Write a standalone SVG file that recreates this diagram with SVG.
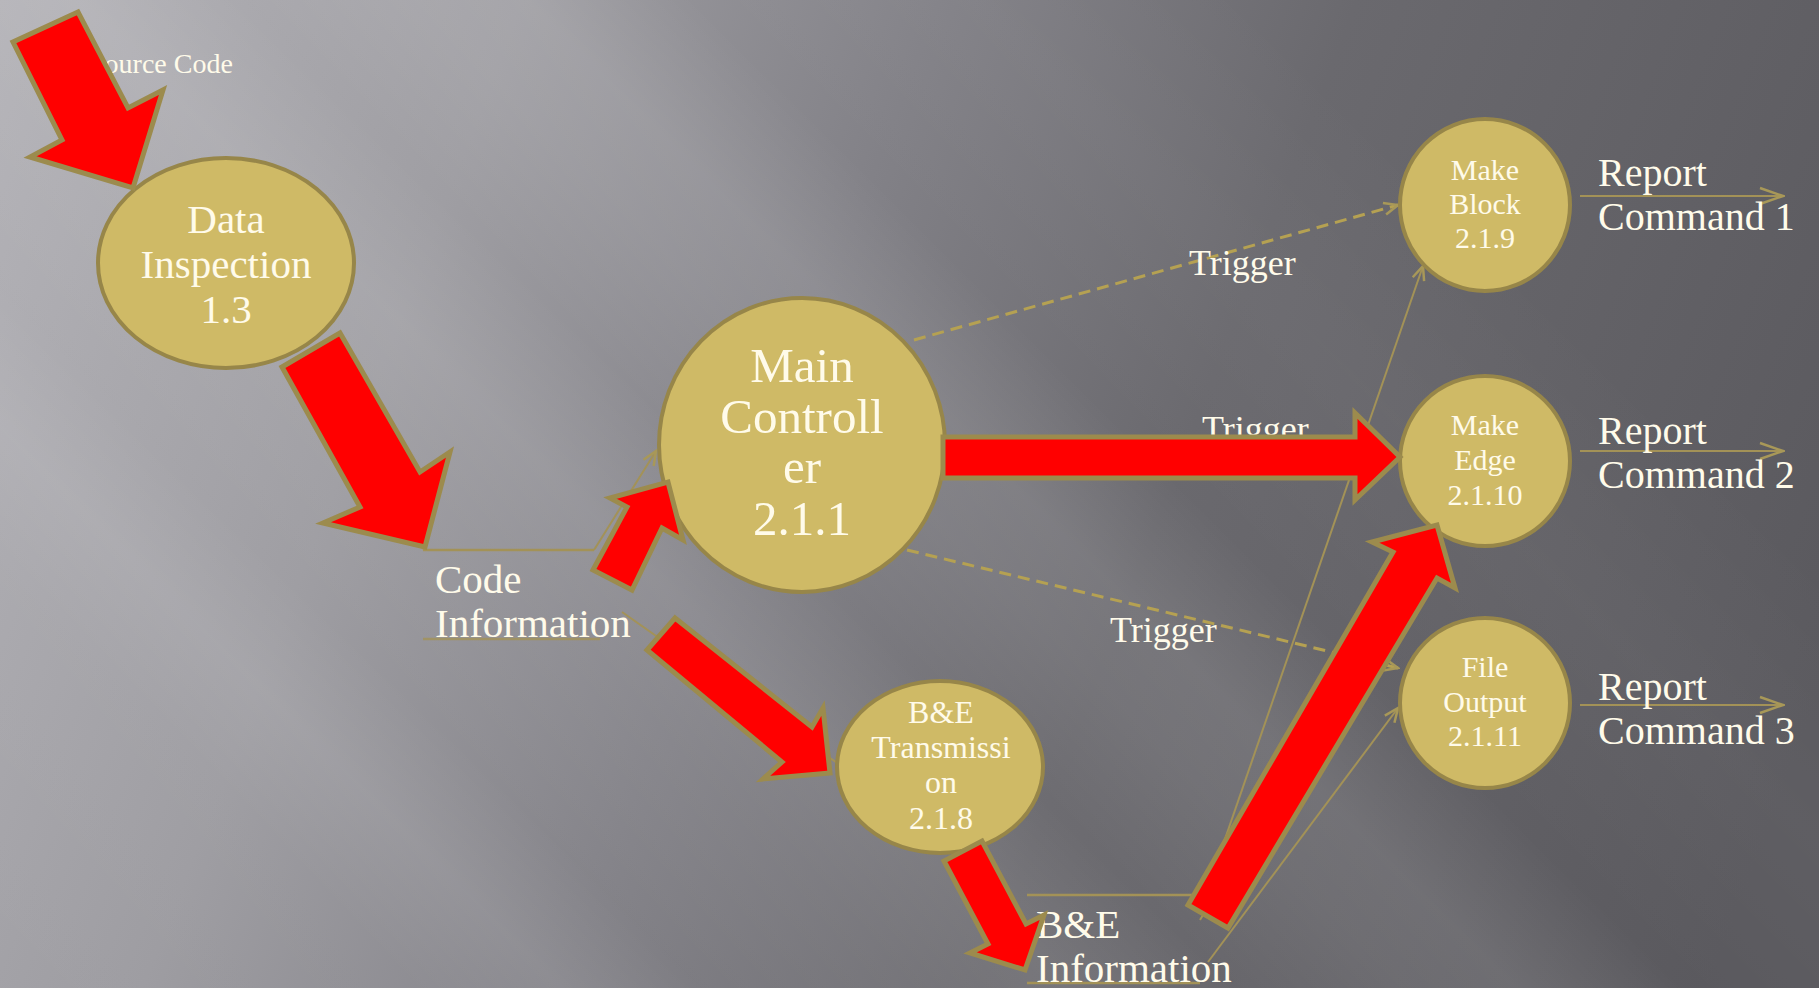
<svg xmlns="http://www.w3.org/2000/svg" width="1819" height="988" viewBox="0 0 1819 988">
  <defs>
    <linearGradient id="bg" gradientUnits="userSpaceOnUse" x1="0" y1="0" x2="1819" y2="700">
      <stop offset="0" stop-color="#b2b1b6"/>
      <stop offset="0.25" stop-color="#9d9ca1"/>
      <stop offset="0.45" stop-color="#828187"/>
      <stop offset="0.65" stop-color="#6a696e"/>
      <stop offset="1" stop-color="#5a595e"/>
    </linearGradient>
    <linearGradient id="streaks" gradientUnits="userSpaceOnUse" x1="0" y1="988" x2="1403.5" y2="-415.5">
      <stop offset="0" stop-color="#ffffff" stop-opacity="0"/>
      <stop offset="0.15" stop-color="#ffffff" stop-opacity="0.03"/>
      <stop offset="0.2" stop-color="#ffffff" stop-opacity="0.09"/>
      <stop offset="0.25" stop-color="#ffffff" stop-opacity="0.02"/>
      <stop offset="0.33" stop-color="#ffffff" stop-opacity="0.06"/>
      <stop offset="0.38" stop-color="#ffffff" stop-opacity="0.1"/>
      <stop offset="0.44" stop-color="#ffffff" stop-opacity="0.02"/>
      <stop offset="0.5" stop-color="#ffffff" stop-opacity="0.08"/>
      <stop offset="0.54" stop-color="#ffffff" stop-opacity="0.1"/>
      <stop offset="0.6" stop-color="#ffffff" stop-opacity="0"/>
      <stop offset="0.7" stop-color="#ffffff" stop-opacity="0.03"/>
      <stop offset="0.8" stop-color="#ffffff" stop-opacity="0"/>
      <stop offset="1" stop-color="#ffffff" stop-opacity="0"/>
    </linearGradient>
    <marker id="chev" markerUnits="userSpaceOnUse" markerWidth="20" markerHeight="20" viewBox="0 0 20 20" refX="18" refY="10" orient="auto">
      <path d="M4,4 L18,10 L4,16" fill="none" stroke="#a89858" stroke-width="2.5"/>
    </marker>
    <marker id="chevL" markerUnits="userSpaceOnUse" markerWidth="28" markerHeight="24" viewBox="0 0 28 24" refX="26" refY="12" orient="auto">
      <path d="M3,4 L26,12 L3,20" fill="none" stroke="#a89858" stroke-width="2.5"/>
    </marker>
    <style>
      .node { fill: #cfba66; stroke: #978649; stroke-width: 4; }
      .nt { fill: #fffbea; font-family: "Liberation Serif", serif; text-anchor: middle; }
      .lbl { fill: #fffbea; font-family: "Liberation Serif", serif; }
      .thin { fill: none; stroke: #a39257; stroke-width: 2; }
      .dash { fill: none; stroke: #b5a152; stroke-width: 3; stroke-dasharray: 12 7; }
      .store { fill: none; stroke: #a39257; stroke-width: 2.5; }
      .red { fill: #ff0000; stroke: #9c8b4d; stroke-width: 5; stroke-linejoin: miter; }
    </style>
  </defs>

  <g id="background">
    <rect x="0" y="0" width="1819" height="988" fill="url(#bg)"/>
    <rect x="0" y="0" width="1819" height="988" fill="url(#streaks)"/>
  </g>

  <g id="connectors">
    <line class="thin" x1="340" y1="360" x2="423" y2="549"/>
    <line class="thin" x1="594" y1="550" x2="656" y2="451" marker-end="url(#chev)"/>
    <line class="thin" x1="622" y1="612" x2="840" y2="765"/>
    <line class="thin" x1="960" y1="853" x2="1027" y2="940"/>
    <line class="dash" x1="914" y1="340" x2="1398" y2="205" marker-end="url(#chev)"/>
    <line class="dash" x1="945" y1="458" x2="1398" y2="458"/>
    <line class="dash" x1="907" y1="550" x2="1398" y2="668" marker-end="url(#chev)"/>
    <line class="thin" x1="1206" y1="894" x2="1423" y2="266" marker-end="url(#chev)"/>
    <line class="thin" x1="1200" y1="920" x2="1425" y2="540"/>
    <line class="thin" x1="1208" y1="962" x2="1398" y2="708" marker-end="url(#chev)"/>
    <line class="thin" x1="1580" y1="196" x2="1783" y2="196" marker-end="url(#chevL)"/>
    <line class="thin" x1="1580" y1="451" x2="1783" y2="451" marker-end="url(#chevL)"/>
    <line class="thin" x1="1580" y1="705" x2="1783" y2="705" marker-end="url(#chevL)"/>
  </g>

  <g id="labels">
    <text class="lbl" x="89" y="73" font-size="28">Source Code</text>
    <text class="lbl" x="1189" y="275" font-size="36">Trigger</text>
    <text class="lbl" x="1202" y="441" font-size="36">Trigger</text>
    <text class="lbl" x="1110" y="642" font-size="36">Trigger</text>
  </g>

  <g id="store-code-information">
    <line class="store" x1="423" y1="550" x2="594" y2="550"/>
    <line class="store" x1="423" y1="639" x2="600" y2="639" stroke-opacity="0.8"/>
    <text class="lbl" x="435" y="593" font-size="41">Code</text>
    <text class="lbl" x="435" y="637" font-size="41">Information</text>
  </g>

  <g id="store-be-information">
    <line class="store" x1="1027" y1="895" x2="1195" y2="895"/>
    <line class="store" x1="1027" y1="983" x2="1200" y2="983"/>
    <text class="lbl" x="1036" y="938" font-size="41">B&amp;E</text>
    <text class="lbl" x="1036" y="982" font-size="41">Information</text>
  </g>

  <g id="node-data-inspection">
    <ellipse class="node" cx="226" cy="263" rx="128" ry="105"/>
    <text class="nt" font-size="41"><tspan x="226" y="233">Data</tspan><tspan x="226" y="278">Inspection</tspan><tspan x="226" y="323">1.3</tspan></text>
  </g>

  <g id="node-main-controller">
    <ellipse class="node" cx="802" cy="445" rx="143" ry="147"/>
    <text class="nt" font-size="49"><tspan x="802" y="382">Main</tspan><tspan x="802" y="433">Controll</tspan><tspan x="802" y="483">er</tspan><tspan x="802" y="535">2.1.1</tspan></text>
  </g>

  <g id="node-be-transmission">
    <ellipse class="node" cx="940" cy="767" rx="103" ry="86"/>
    <text class="nt" font-size="32"><tspan x="941" y="723">B&amp;E</tspan><tspan x="941" y="758">Transmissi</tspan><tspan x="941" y="793">on</tspan><tspan x="941" y="829">2.1.8</tspan></text>
  </g>

  <g id="node-make-block">
    <ellipse class="node" cx="1485" cy="205" rx="85" ry="86"/>
    <text class="nt" font-size="30"><tspan x="1485" y="180">Make</tspan><tspan x="1485" y="214">Block</tspan><tspan x="1485" y="248">2.1.9</tspan></text>
  </g>

  <g id="node-make-edge">
    <ellipse class="node" cx="1485" cy="461" rx="85" ry="85"/>
    <text class="nt" font-size="30"><tspan x="1485" y="435">Make</tspan><tspan x="1485" y="470">Edge</tspan><tspan x="1485" y="505">2.1.10</tspan></text>
  </g>

  <g id="node-file-output">
    <ellipse class="node" cx="1485" cy="703" rx="85" ry="85"/>
    <text class="nt" font-size="30"><tspan x="1485" y="677">File</tspan><tspan x="1485" y="712">Output</tspan><tspan x="1485" y="746">2.1.11</tspan></text>
  </g>

  <g id="report-commands">
    <text class="lbl" font-size="40"><tspan x="1598" y="186">Report</tspan><tspan x="1598" y="230">Command 1</tspan></text>
    <text class="lbl" font-size="40"><tspan x="1598" y="444">Report</tspan><tspan x="1598" y="488">Command 2</tspan></text>
    <text class="lbl" font-size="40"><tspan x="1598" y="700">Report</tspan><tspan x="1598" y="744">Command 3</tspan></text>
  </g>

  <g id="flow-arrows">
    <polygon class="red" points="13,42 62,140 30,157 133,188 163,90 128,108 78,12"/>
    <polygon class="red" points="282,367 360,507 323,523 425,547 450,452 420,472 340,333"/>
    <polygon class="red" points="593,570 627,507 610,498 668,482 683,540 662,528 632,590"/>
    <polygon class="red" points="647,650 782,762 763,779 830,773 823,708 812,727 675,618"/>
    <polygon class="red" points="943,437 1355,437 1355,413 1400,457 1355,500 1355,478 943,478"/>
    <polygon class="red" points="1188,905 1393,552 1372,542 1437,525 1455,588 1437,578 1228,928"/>
    <polygon class="red" points="944,861 988,944 970,953 1025,970 1044,915 1026,924 982,841"/>
  </g>
</svg>
